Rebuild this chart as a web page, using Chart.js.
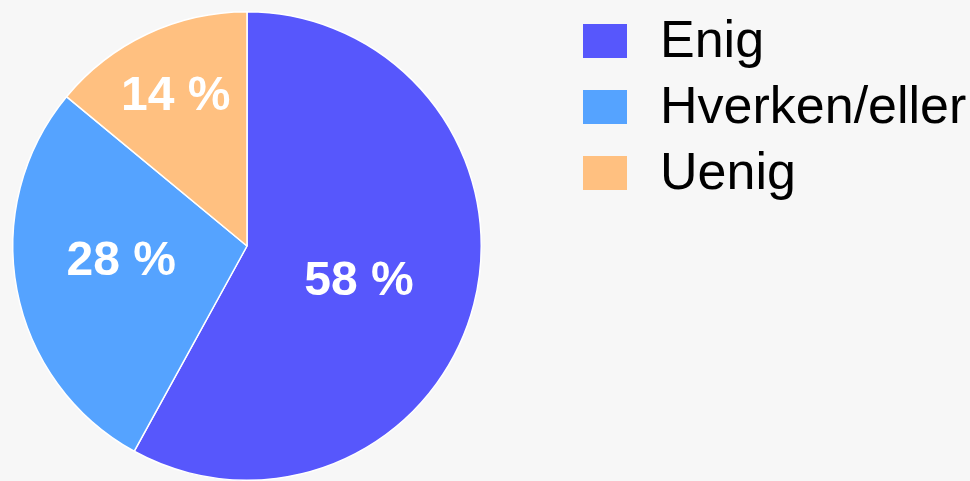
<!DOCTYPE html>
<html>
<head>
<meta charset="utf-8">
<script src="https://cdn.jsdelivr.net/npm/chart.js@4/dist/chart.umd.min.js"></script>
<style>
  html, body { margin: 0; padding: 0; background: #f7f7f7; }
  canvas { display: block; }
</style>
</head>
<body>
<canvas id="pieChart" width="970" height="481"></canvas>
<script>
// Data
var categories = ['Enig', 'Hverken/eller', 'Uenig'];
var values = [58, 28, 14];
var sliceColors = ['#5757fc', '#55a3ff', '#ffc080'];
// where each percentage label sits: fraction of the radius, and a small turn (degrees)
var labelRadius = [0.5, 0.54, 0.715];
var labelTurn = [2.5, 4.5, 0];

// Percent labels inside the slices
var sliceLabels = {
    id: 'sliceLabels',
    afterDatasetsDraw: function(chart) {
        var ctx = chart.ctx;
        var meta = chart.getDatasetMeta(0);
        var total = values.reduce(function(a, b) { return a + b; }, 0);
        ctx.save();
        ctx.fillStyle = '#ffffff';
        ctx.font = 'bold 48px "Liberation Sans", Arial, sans-serif';
        ctx.textAlign = 'center';
        ctx.textBaseline = 'middle';
        meta.data.forEach(function(arc, i) {
            var p = arc.getProps(['x', 'y', 'startAngle', 'endAngle', 'outerRadius'], true);
            var mid = (p.startAngle + p.endAngle) / 2 + labelTurn[i] * Math.PI / 180;
            var r = p.outerRadius * labelRadius[i];
            var pct = Math.round(values[i] / total * 100) + ' %';
            ctx.fillText(pct, p.x + Math.cos(mid) * r, p.y + Math.sin(mid) * r + 2);
        });
        ctx.restore();
    }
};

// Legend on the right, drawn by hand so it sits where the original one is
var sideLegend = {
    id: 'sideLegend',
    afterDraw: function(chart) {
        var ctx = chart.ctx;
        var left = chart.chartArea.right + 100;
        ctx.save();
        ctx.font = '52px "Liberation Sans", Arial, sans-serif';
        ctx.textBaseline = 'middle';
        categories.forEach(function(name, i) {
            var top = 24 + i * 66;
            ctx.fillStyle = sliceColors[i];
            ctx.fillRect(left, top, 44, 34);
            ctx.fillStyle = '#000000';
            ctx.fillText(name, left + 77, top + 19);
        });
        ctx.restore();
    }
};

var ctx = document.getElementById('pieChart').getContext('2d');
var myChart = new Chart(ctx, {
    type: 'pie',
    data: {
        labels: categories,
        datasets: [{
            data: values,
            backgroundColor: sliceColors,
            borderColor: '#ffffff',
            borderWidth: 1.5
        }]
    },
    options: {
        responsive: false,
        animation: false,
        layout: {
            padding: { left: 11, top: 11, right: 487, bottom: -2 }
        },
        plugins: {
            legend: { display: false },
            tooltip: { enabled: false }
        }
    },
    plugins: [sliceLabels, sideLegend]
});
</script>
</body>
</html>
